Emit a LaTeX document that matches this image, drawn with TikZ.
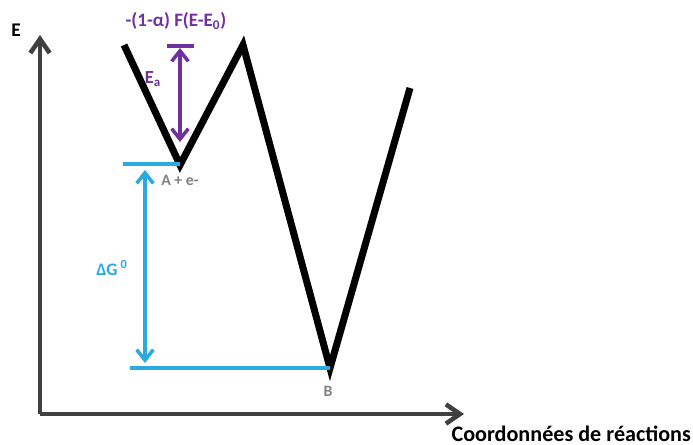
\documentclass[tikz,border=0pt]{standalone}
\usepackage{fontspec}
\setmainfont{Carlito}
\usetikzlibrary{arrows.meta, positioning}

\definecolor{axisgray}{RGB}{64,64,64}
\definecolor{levelblue}{RGB}{41,171,226}
\definecolor{barrierpurple}{RGB}{112,48,160}
\definecolor{labelgray}{RGB}{128,128,128}

\begin{document}
\begin{tikzpicture}[x=0.02cm, y=-0.02cm,
    axis/.style={line width=2.6pt, axisgray, -{Straight Barb[length=8pt, width=11pt]}},
    profile/.style={line width=4pt, black, line join=miter},
    level/.style={line width=2pt, levelblue},
    level_arrow/.style={line width=2pt, levelblue, {Straight Barb[length=6pt, width=9.5pt]}-{Straight Barb[length=6pt, width=9.5pt]}},
    barrier/.style={line width=2pt, barrierpurple},
    barrier_arrow/.style={line width=2pt, barrierpurple, {Straight Barb[length=6pt, width=9.5pt]}-{Straight Barb[length=6pt, width=9.5pt]}},
    label_text/.style={font=\bfseries, inner sep=1pt}]

    \useasboundingbox (0,0) rectangle (693,445);

    % axes
    \coordinate (origin) at (40,414);
    \coordinate (e_tip) at (40,35);
    \coordinate (rc_tip) at (464,414);
    \draw[axis] (origin) -- (e_tip);
    \draw[axis] (origin) -- (rc_tip);
    \node[label_text, font=\fontsize{11}{12}\bfseries\selectfont] (e_label) at (16,30) {E};
    \node[label_text, anchor=south east, font=\fontsize{12.6}{14}\bfseries\selectfont] (rc_label) at (693,444) {Coordonnées de réactions};

    % energy profile
    \coordinate (left_top) at (124,45);
    \coordinate (well_A) at (180,165);
    \coordinate (peak) at (243,45);
    \coordinate (well_B) at (330,368);
    \coordinate (right_top) at (410,88);
    \draw[profile] (left_top) -- (well_A) -- (peak) -- (well_B) -- (right_top);

    % levels and free energy
    \coordinate (level_A) at (123,164);
    \coordinate (level_B) at (130,368);
    \draw[level] (level_A) -- (well_A |- level_A);
    \draw[level] (level_B) -- (well_B);
    \coordinate (dg_top) at (145,170);
    \coordinate (dg_bottom) at (145,363);
    \draw[level_arrow] (dg_top) -- (dg_bottom);
    \node[label_text, levelblue, font=\fontsize{10}{11}\bfseries\selectfont] (dg_label) at (112,268) {ΔG\,\textsuperscript{0}};
    \node[label_text, labelgray, font=\fontsize{9}{10}\bfseries\selectfont] (a_label) at (180,180) {A + e-};
    \node[label_text, labelgray, font=\fontsize{9}{10}\bfseries\selectfont] (b_label) at (328,391) {B};

    % activation barrier
    \coordinate (bar_left) at (167,46);
    \coordinate (bar_right) at (194,46);
    \coordinate (ea_top) at (180,48);
    \coordinate (ea_bottom) at (180,142);
    \draw[barrier] (bar_left) -- (bar_right);
    \draw[barrier_arrow] (ea_top) -- (ea_bottom);
    \node[label_text, barrierpurple, font=\fontsize{10.5}{12}\bfseries\selectfont] (ea_label) at (153,79) {E\textsubscript{a}};
    \node[label_text, barrierpurple, font=\fontsize{10.8}{12}\bfseries\selectfont] (shift_label) at (176,21) {-(1-α) F(E-E\textsubscript{0})};

\end{tikzpicture}
\end{document}
